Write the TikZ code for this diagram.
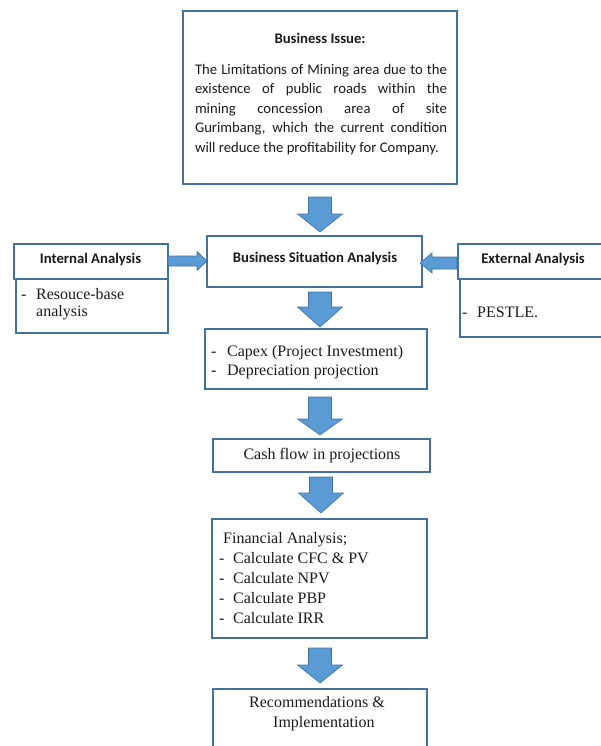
\documentclass[tikz,border=0pt]{standalone}
\usepackage{fontspec}
\setmainfont{Liberation Serif}
\newfontfamily\calfont{Carlito}
\definecolor{boxblue}{HTML}{41719C}
\definecolor{arrfill}{HTML}{5B9BD5}
\definecolor{arrline}{HTML}{41719C}
\definecolor{txt}{HTML}{1A1A1A}
\newcommand{\arrdown}[4]{%
  \path[blockarrow] (#1-11.5,#2) -- (#1+11.5,#2) -- (#1+11.5,#3) -- (#1+22.5,#3) -- (#1,#4) -- (#1-22.5,#3) -- (#1-11.5,#3) -- cycle;}
\begin{document}
\begin{tikzpicture}[x=1pt,y=-1pt,
  box/.style={draw=boxblue, line width=1.8pt, rectangle, inner sep=0pt},
  sertext/.style={text=txt, inner sep=0pt, font=\fontsize{16}{18.5}\selectfont},
  caltext/.style={text=txt, inner sep=0pt, font=\calfont\fontsize{14.7}{19.5}\selectfont},
  calbold/.style={text=txt, inner sep=0pt, font=\calfont\bfseries\fontsize{14.7}{18}\selectfont},
  blockarrow/.style={fill=arrfill, draw=arrline, line width=0.6pt, line join=miter},
]
\useasboundingbox (0,0) rectangle (600,746);

% boxes
\node[box, minimum width=274, minimum height=173] (issue) at (320,97.5) {};
\node[box, minimum width=215, minimum height=51] (bsa) at (314.5,261.5) {};
\node[box, minimum width=222, minimum height=60] (capex) at (316,359) {};
\node[box, minimum width=217, minimum height=33] (cash) at (321.5,455.5) {};
\node[box, minimum width=215, minimum height=119] (fin) at (319.5,578.5) {};
\node[box, minimum width=214, minimum height=92, anchor=north] (rec) at (320,688) {};
\node[box, minimum width=154, minimum height=35, anchor=north west] (intH) at (13,243) {};
\node[box, minimum width=152, minimum height=54, anchor=north west] (intB) at (15,278) {};
\node[box, minimum width=183, minimum height=35, anchor=north west] (extH) at (457,243) {};
\node[box, minimum width=181, minimum height=58, anchor=north west] (extB) at (459,278) {};

% texts
\node[calbold] (issuetitle) at (320,38) {Business Issue:};
\node[caltext, text width=252, align=justify, anchor=north] (issuetext) at (321,64)
  {The Limitations of Mining area due to the\linebreak existence of public roads within the\linebreak mining concession area of site\linebreak Gurimbang, which the current condition will reduce the profitability for Company.};
\node[calbold] (bsatext) at (315,258) {Business Situation Analysis};
\node[calbold] (intHtext) at (90.5,259) {Internal Analysis};
\node[calbold] (extHtext) at (533,259) {External Analysis};
\node[sertext, align=left, anchor=west, font=\fontsize{16}{17}\selectfont] (intBtext) at (21,304)
  {\makebox[15pt][l]{-}Resouce-base\\\hspace*{15pt}analysis};
\node[sertext, anchor=west] (extBtext) at (462,312) {\makebox[15pt][l]{-}PESTLE.};
\node[sertext, align=left, anchor=west] (capextext) at (211,362)
  {\makebox[16pt][l]{-}Capex (Project Investment)\\\makebox[16pt][l]{-}Depreciation projection};
\node[sertext] (cashtext) at (322,456) {Cash flow in projections};
\node[sertext, align=left, anchor=west, font=\fontsize{16}{20.2}\selectfont] (fintext) at (219,578)
  {\hspace*{4pt}Financial Analysis;\\\makebox[14pt][l]{-}Calculate CFC \& PV\\\makebox[14pt][l]{-}Calculate NPV\\\makebox[14pt][l]{-}Calculate PBP\\\makebox[14pt][l]{-}Calculate IRR};
\node[sertext, align=left, anchor=west, font=\fontsize{16}{20}\selectfont] (rectext) at (249,714)
  {Recommendations \&\\\hspace*{24pt}Implementation};

% block arrows
\arrdown{320}{197}{214}{232}
\arrdown{320}{292}{307}{327}
\arrdown{320}{397}{419}{435}
\arrdown{321}{477}{493}{513}
\arrdown{320}{648}{665}{683}
\path[blockarrow] (168,256) -- (197,256) -- (197,251.5) -- (207,261) -- (197,270.5) -- (197,266) -- (168,266) -- cycle;
\path[blockarrow] (457,257) -- (432,257) -- (432,253) -- (420,263) -- (432,273) -- (432,269) -- (457,269) -- cycle;
\end{tikzpicture}
\end{document}
